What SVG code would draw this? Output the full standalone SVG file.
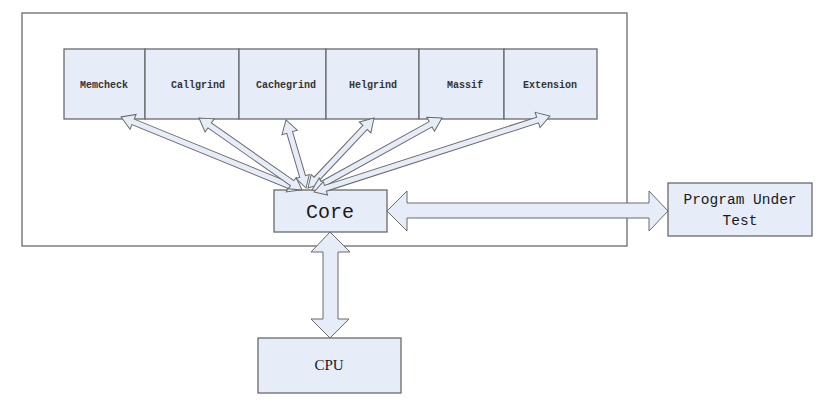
<svg xmlns="http://www.w3.org/2000/svg" width="826" height="403" viewBox="0 0 826 403">
<style>
.box{fill:#e6ecf8;stroke:#6a6a6a;stroke-width:1.3}
.frame{fill:#ffffff;stroke:#6a6a6a;stroke-width:1.3}
.arr{fill:#e6ecf8;stroke:#6a6a6a;stroke-width:1}
.tl{font-family:"Liberation Mono",monospace;font-size:10px;font-weight:bold;fill:#333;text-anchor:middle}
.mono{font-family:"Liberation Mono",monospace;fill:#1a1a1a;text-anchor:middle}
.serif{font-family:"Liberation Serif",serif;fill:#1a1a1a;text-anchor:middle}
</style>
<rect width="826" height="403" fill="#ffffff"/>
<rect id="frame" class="frame" x="22" y="13" width="605" height="233"/>
<g id="memcheck"><rect class="box" x="64" y="49" width="81" height="70"/><text class="tl" x="104" y="88">Memcheck</text></g>
<g id="callgrind"><rect class="box" x="145" y="49" width="94" height="70"/><text class="tl" x="198" y="88">Callgrind</text></g>
<g id="cachegrind"><rect class="box" x="239" y="49" width="87" height="70"/><text class="tl" x="286" y="88">Cachegrind</text></g>
<g id="helgrind"><rect class="box" x="326" y="49" width="93" height="70"/><text class="tl" x="373" y="88">Helgrind</text></g>
<g id="massif"><rect class="box" x="419" y="49" width="85" height="70"/><text class="tl" x="465" y="88">Massif</text></g>
<g id="extension"><rect class="box" x="504" y="49" width="93" height="70"/><text class="tl" x="550" y="88">Extension</text></g>
<g id="core"><rect class="box" x="274" y="190" width="113" height="42"/><text class="mono" x="330" y="218" font-size="20">Core</text></g>
<g id="program"><rect class="box" x="668" y="183" width="144" height="53"/><text class="mono" x="740" y="204" font-size="14.5">Program Under</text><text class="mono" x="740" y="225" font-size="14.5">Test</text></g>
<g id="cpu"><rect class="box" x="258" y="338" width="143" height="55"/><text class="serif" x="329" y="370" font-size="15">CPU</text></g>
<g id="connectors">
<polygon class="arr" points="387,211 407,191 407,203 649,203 649,191 668,211 649,231 649,218 407,218 407,231"/>
<polygon class="arr" points="330,232 350,252 338,252 338,319 349,319 330,338 311,319 323,319 323,252 311,252"/>
<g transform="translate(300,190) rotate(202.2)"><polygon class="arr" points="0,0 12,-7 12,-3 180.3,-3 180.3,-8 193.3,0 180.3,8 180.3,3 12,3 12,7"/></g>
<g transform="translate(302,190) rotate(214.96)"><polygon class="arr" points="0,0 12,-7 12,-3 112.7,-3 112.7,-8 125.7,0 112.7,8 112.7,3 12,3 12,7"/></g>
<g transform="translate(306,188) rotate(253.6)"><polygon class="arr" points="0,0 12,-7 12,-3 57.9,-3 57.9,-8 70.9,0 57.9,8 57.9,3 12,3 12,7"/></g>
<g transform="translate(308,188) rotate(-46.7)"><polygon class="arr" points="0,0 12,-7 12,-3 83.2,-3 83.2,-8 96.2,0 83.2,8 83.2,3 12,3 12,7"/></g>
<g transform="translate(312,190) rotate(-28.98)"><polygon class="arr" points="0,0 12,-7 12,-3 135.6,-3 135.6,-8 148.6,0 135.6,8 135.6,3 12,3 12,7"/></g>
<g transform="translate(314,192) rotate(-17.85)"><polygon class="arr" points="0,0 12,-7 12,-3 234.9,-3 234.9,-8 247.9,0 234.9,8 234.9,3 12,3 12,7"/></g>
</g>
</svg>
